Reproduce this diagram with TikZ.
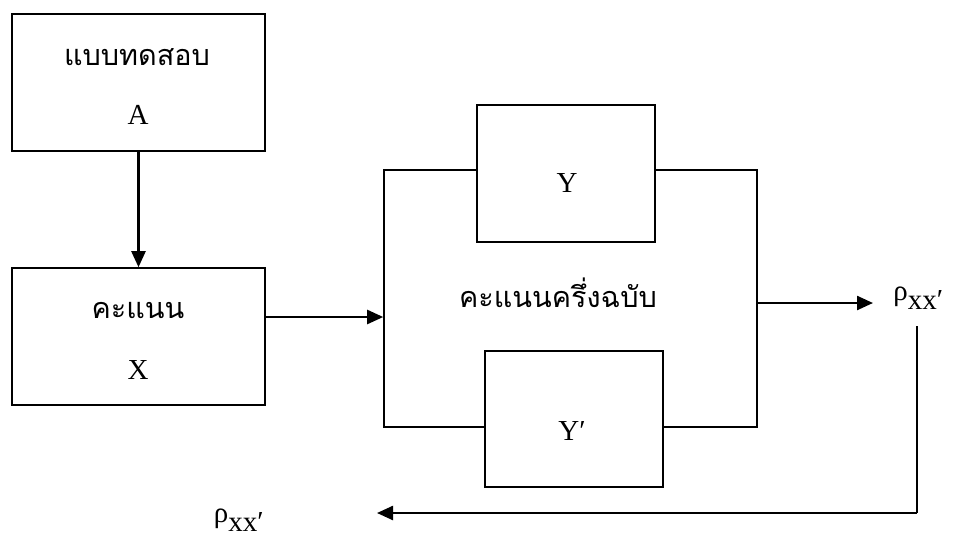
\documentclass[tikz,border=0pt]{standalone}
\usepackage{fontspec}
\setmainfont{Liberation Serif}
\newfontfamily\thaifont[Script=Thai]{Loma}
\usetikzlibrary{arrows.meta}
\tikzset{
  box/.style={draw, line width=0.8pt, fill=white, inner sep=0pt},
  lbl/.style={inner sep=0pt, font=\fontsize{14.5}{17}\selectfont},
  thailbl/.style={inner sep=0pt, font=\thaifont\fontsize{14.4}{17}\selectfont},
  link/.style={line width=1.2pt, -{Triangle[length=8pt,width=7pt]}},
  plain/.style={line width=1.2pt}
}
\newcommand{\rhoxx}{ρ\raisebox{-4.5pt}{xx′}}
\begin{document}
\begin{tikzpicture}[x=0.5pt,y=-0.5pt]
  \useasboundingbox (0,0) rectangle (954,542);
  % test A
  \node[box, minimum width=126.5pt, minimum height=68.5pt] (A) at (138.5,82.5) {};
  \node[thailbl] (Atitle) at (137,57) {แบบทดสอบ};
  \node[lbl] (Aname) at (138,115) {A};
  % score X
  \node[box, minimum width=126.5pt, minimum height=68.5pt] (X) at (138.5,336.5) {};
  \node[thailbl] (Xtitle) at (138,310) {คะแนน};
  \node[lbl] (Xname) at (138,370) {X};
  % split-half frame with its two halves
  \node[draw, line width=0.8pt, inner sep=0pt, minimum width=186.5pt, minimum height=128.5pt] (frame) at (570.5,298.5) {};
  \node[box, minimum width=89pt, minimum height=68.5pt] (Y) at (566,173.5) {};
  \node[lbl] (Yname) at (567,183) {Y};
  \node[box, minimum width=89pt, minimum height=68pt] (Yp) at (574,419) {};
  \node[lbl] (Ypname) at (572,431) {Y′};
  \node[thailbl] (half) at (558,293) {คะแนนครึ่งฉบับ};
  % reliability labels
  \node[lbl, anchor=west] (rhoA) at (893,298) {\rhoxx};
  \node[lbl, anchor=east] (rhoB) at (264,520) {\rhoxx};
  % connectors
  \draw[link] (A.south) -- (X.north);
  \coordinate (inpt) at (383,317);
  \draw[link] (X.east |- inpt) -- (frame.west |- inpt);
  \coordinate (outpt) at (873,303);
  \draw[link] (frame.east |- outpt) -- (outpt);
  \coordinate (down) at (917,326);
  \coordinate (turn) at (917,513);
  \coordinate (back) at (377,513);
  \draw[plain] (down) -- (turn);
  \draw[link] (turn) -- (back);
\end{tikzpicture}
\end{document}
